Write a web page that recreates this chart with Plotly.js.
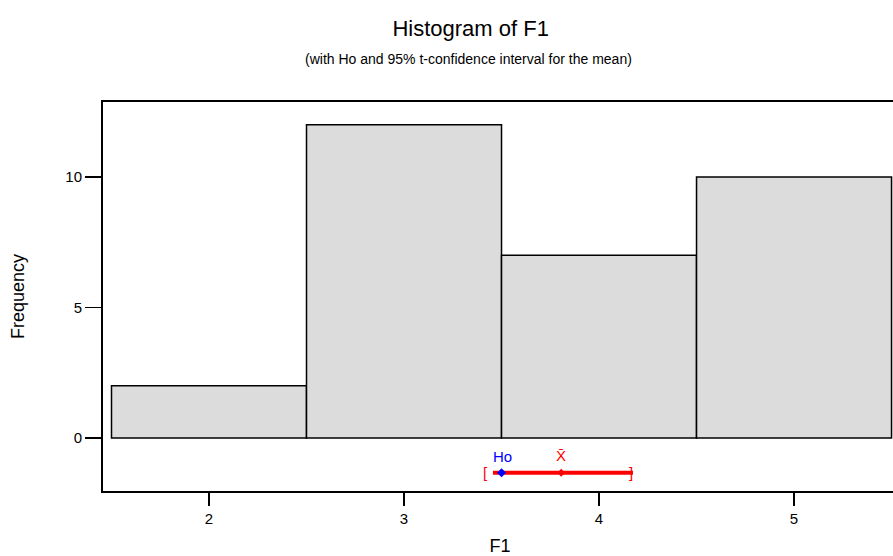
<!DOCTYPE html>
<html><head><meta charset="utf-8">
<script src="https://cdn.plot.ly/plotly-3.0.1.min.js"></script>
<style>html,body{margin:0;padding:0;overflow:hidden;background:#fff;}</style>
</head><body><div id="chart"></div>
<script>
// Data
const binCenters = [2, 3, 4, 5];
const binCounts = [2, 12, 7, 10];
const binWidth = 1;
const hoValue = 3.5;
const meanValue = 3.806;
const ciLower = 3.456;
const ciUpper = 4.174;
const ciLevel = -1.33;
const xTicks = [2, 3, 4, 5];
const yTicks = [0, 5, 10];

const font = "Liberation Sans, Arial, sans-serif";

const traces = [
  {
    type: 'bar', x: binCenters, y: binCounts, width: binWidth,
    marker: {color: '#dcdcdc', line: {color: '#000', width: 1.5}},
    hoverinfo: 'x+y', showlegend: false
  },
  {
    type: 'scatter', mode: 'lines', x: [ciLower, ciUpper], y: [ciLevel, ciLevel],
    line: {color: '#ff0000', width: 4}, showlegend: false, hoverinfo: 'x'
  },
  {
    type: 'scatter', mode: 'markers', x: [meanValue], y: [ciLevel],
    marker: {symbol: 'diamond', color: '#ff0000', size: 6}, showlegend: false
  },
  {
    type: 'scatter', mode: 'markers', x: [hoValue], y: [ciLevel],
    marker: {symbol: 'diamond', color: '#0000ff', size: 7}, showlegend: false
  }
];

const layout = {
  width: 900, height: 556,
  margin: {l: 103, r: 3, t: 102, b: 65},
  paper_bgcolor: '#fff', plot_bgcolor: '#fff',
  font: {family: font, color: '#000'},
  bargap: 0,
  title: {text: 'Histogram of F1', font: {size: 22, family: font, color: '#000'},
          x: 0.523, xanchor: 'center', y: 0.95, yanchor: 'middle'},
  xaxis: {
    range: [1.4564, 5.528], tickvals: xTicks, ticktext: xTicks.map(String),
    ticks: 'outside', ticklen: 13, tickwidth: 1.5, tickcolor: '#000',
    showline: true, linewidth: 2, linecolor: '#000', mirror: true,
    showgrid: false, zeroline: false,
    tickfont: {size: 15, family: font},
    title: {text: 'F1', font: {size: 18, family: font}, standoff: 14}
  },
  yaxis: {
    range: [-2.03, 12.874], tickvals: yTicks, ticktext: yTicks.map(String),
    ticks: 'outside', ticklen: 16, tickwidth: 1.5, tickcolor: '#000',
    showline: true, linewidth: 2, linecolor: '#000', mirror: true,
    showgrid: false, zeroline: false,
    tickfont: {size: 15, family: font},
    title: {text: 'Frequency', font: {size: 18, family: font}, standoff: 36}
  },
  annotations: [
    {xref: 'paper', yref: 'paper', x: 0.46, y: 1.11, yanchor: 'middle',
     text: '(with Ho and 95% t-confidence interval for the mean)',
     showarrow: false, font: {size: 14, family: font}},
    {x: hoValue, y: ciLevel, xref: 'x', yref: 'y', text: 'Ho', showarrow: false,
     xshift: 1, yshift: 16, font: {size: 15, color: '#0000ff', family: font}},
    {x: meanValue, y: ciLevel, xref: 'x', yref: 'y', text: 'X\u0304', showarrow: false,
     yshift: 17, font: {size: 15, color: '#ff0000', family: font}},
    {x: ciLower, y: ciLevel, xref: 'x', yref: 'y', text: '[', showarrow: false,
     xshift: -7, yshift: 0, font: {size: 15, color: '#ff0000', family: font}},
    {x: ciUpper, y: ciLevel, xref: 'x', yref: 'y', text: ']', showarrow: false,
     xshift: -2, yshift: 0, font: {size: 15, color: '#ff0000', family: font}}
  ]
};

Plotly.newPlot('chart', traces, layout, {displayModeBar: false, staticPlot: true});
</script></body></html>
